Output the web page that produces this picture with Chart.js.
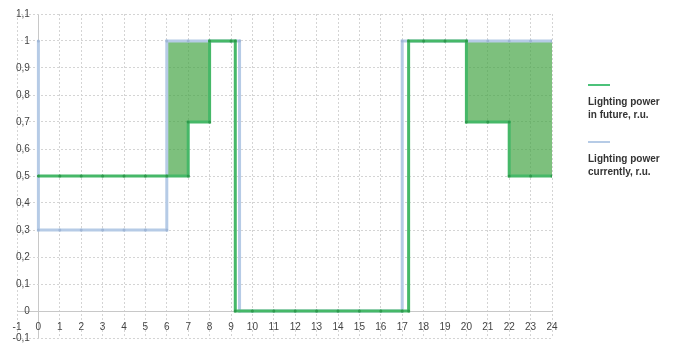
<!DOCTYPE html>
<html>
<head>
<meta charset="utf-8">
<script src="https://cdn.jsdelivr.net/npm/chart.js@4.4.0/dist/chart.umd.min.js"></script>
<style>
    body { margin: 0; background: #fff; }
    #wrap { position: relative; width: 678px; height: 344px; }
    .leyenda { position: absolute; left: 588px; font: bold 10px "Liberation Sans", Arial, sans-serif; color: #333; line-height: 13px; }
    .leyenda .raya { width: 22px; height: 2px; margin-bottom: 9px; }
</style>
</head>
<body>
<div id="wrap">
    <canvas id="myChart" width="678" height="344"></canvas>
    <div class="leyenda" style="top:84px"><div class="raya" style="background:#4cc27a"></div>Lighting power<br>in future, r.u.</div>
    <div class="leyenda" style="top:141px"><div class="raya" style="background:#b6cbe6"></div>Lighting power<br>currently, r.u.</div>
</div>
<script>
    // Future lighting (green)
let futuroX = [0, 1, 2, 3, 4, 5, 6, 7, 7, 8, 8, 9, 9.2, 9.2, 10, 11, 12, 13, 14, 15, 16, 17, 17.3, 17.3, 18, 19, 20, 20, 21, 22, 22, 23, 24]
let futuroY = [0.5, 0.5, 0.5, 0.5, 0.5, 0.5, 0.5, 0.5, 0.7, 0.7, 1, 1, 1, 0, 0, 0, 0, 0, 0, 0, 0, 0, 0, 1, 1, 1, 1, 0.7, 0.7, 0.7, 0.5, 0.5, 0.5]
    // Current lighting (blue)
let actualX = [0, 0, 1, 2, 3, 4, 5, 6, 6, 7, 8, 9, 9.4, 9.4, 10, 11, 12, 13, 14, 15, 16, 17, 17, 18, 19, 20, 21, 22, 23, 24]
let actualY = [1, 0.3, 0.3, 0.3, 0.3, 0.3, 0.3, 0.3, 1, 1, 1, 1, 1, 0, 0, 0, 0, 0, 0, 0, 0, 0, 1, 1, 1, 1, 1, 1, 1, 1]
    // Savings area (shaded), null splits the two blocks
let ahorroX = [6, 7, 7, 8, 8, 20, 20, 22, 22, 24]
let ahorroY = [0.5, 0.5, 0.7, 0.7, null, null, 0.7, 0.7, 0.5, 0.5]
let ahorroTope = 1

let xMin = -1
let xMax = 24
let yMin = -0.1
let yMax = 1.1

function juntar(xs, ys) {
    return xs.map((x, i) => ({ x: x, y: ys[i] }))
}

// axes sit inside the plot, so they must not take any room
function sinEspacio(s) {
    if (s.isHorizontal()) s.height = 0
    else s.width = 0
    s.paddingTop = 0
    s.paddingBottom = 0
    s.paddingLeft = 0
    s.paddingRight = 0
}

const data = {
    datasets: [{
        label: 'Lighting power currently, r.u.',
        data: juntar(actualX, actualY),
        borderColor: '#b6cbe6',
        backgroundColor: '#b6cbe6',
        borderWidth: 3,
        pointRadius: 1.5,
        pointBackgroundColor: '#9fb6d6',
        pointBorderWidth: 0,
        order: 2
    }, {
        label: 'Lighting power in future, r.u.',
        data: juntar(futuroX, futuroY),
        borderColor: '#46b868',
        backgroundColor: '#46b868',
        borderWidth: 3,
        pointRadius: 1.5,
        pointBackgroundColor: '#2e9a4c',
        pointBorderWidth: 0,
        order: 1
    }, {
        label: 'ahorro',
        data: juntar(ahorroX, ahorroY),
        borderWidth: 0,
        pointRadius: 0,
        spanGaps: false,
        fill: { value: ahorroTope },
        backgroundColor: 'rgba(70, 165, 70, 0.7)',
        order: 3
    }]
}

const config = {
    type: 'scatter',
    data: data,
    options: {
        responsive: false,
        animation: false,
        showLine: true,
        layout: { padding: { left: 17, right: 126, top: 14, bottom: 6 } },
        plugins: { legend: { display: false }, tooltip: { enabled: false } },
        scales: {
            x: {
                type: 'linear',
                min: xMin,
                max: xMax,
                position: { y: 0 },
                afterFit: sinEspacio,
                ticks: {
                    stepSize: 1,
                    color: '#444',
                    font: { size: 10, family: 'Liberation Sans' },
                    padding: 10
                },
                // the line at x = 0 is the vertical axis: solid
                grid: { color: ctx => ctx.tick && ctx.tick.value === 0 ? '#c8c8c8' : '#d4d4d4', drawTicks: false },
                border: { color: '#c8c8c8', width: 1, dash: ctx => ctx.tick && ctx.tick.value === 0 ? [] : [2, 2] }
            },
            y: {
                type: 'linear',
                min: yMin,
                max: yMax,
                // labels hang a little left of the axis line
                position: { x: -0.4 },
                afterFit: sinEspacio,
                ticks: {
                    stepSize: 0.1,
                    color: '#444',
                    font: { size: 10, family: 'Liberation Sans' },
                    padding: 8,
                    callback: v => String(Math.round(v * 10) / 10).replace('.', ',')
                },
                grid: { color: '#d4d4d4', drawTicks: false },
                border: { color: 'rgba(0, 0, 0, 0)', width: 1, dash: [2, 2] }
            }
        }
    }
}

myChart = new Chart(document.getElementById('myChart'), config)
</script>
</body>
</html>
